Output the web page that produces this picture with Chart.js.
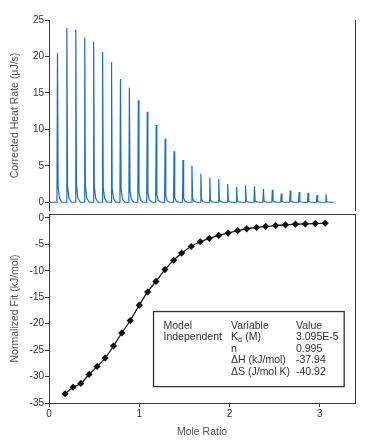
<!doctype html>
<html lang="en">
<head>
<meta charset="utf-8">
<title>ITC – Heat Rate and Normalized Fit</title>
<script src="https://cdn.jsdelivr.net/npm/chart.js@4.4.1/dist/chart.umd.min.js"></script>
<style>
 body{margin:0;background:#fff}
 #wrap{position:relative;width:377px;height:441px}
 canvas{position:absolute;left:0}
 #top{top:0}
 #bot{top:210px}
</style>
</head>
<body>
<div id="wrap">
  <canvas id="top" width="377" height="211"></canvas>
  <canvas id="bot" width="377" height="231"></canvas>
</div>

<script>
/* ===== Data ========================================================= */
// top panel: injection times (s) and peak heights (µJ/s)
const injTimes = [190, 400, 600, 800, 1000, 1200, 1400, 1600, 1800, 2000,
                  2200, 2400, 2600, 2800, 3000, 3200, 3400, 3600, 3800, 4000,
                  4200, 4400, 4600, 4800, 5000, 5200, 5400, 5600, 5800, 6000, 6200];
const peakHeights = [20.5, 23.9, 23.7, 22.6, 22.0, 20.6, 19.2, 16.9, 15.7, 14.0,
                     12.4, 10.6, 8.7, 7.0, 5.8, 5.0, 3.9, 3.4, 3.2, 2.5,
                     2.1, 2.3, 2.2, 1.8, 1.7, 1.2, 1.6, 1.4, 1.3, 1.0, 1.1];
const traceEnd = 6380;

// bottom panel: mole ratio vs normalized fit (kJ/mol)
const moleRatio = [0.178, 0.267, 0.352, 0.444, 0.533, 0.622, 0.715, 0.807, 0.9, 1.0,
                   1.093, 1.185, 1.285, 1.381, 1.47, 1.575, 1.675, 1.776, 1.88, 1.985,
                   2.09, 2.19, 2.3, 2.4, 2.51, 2.62, 2.73, 2.84, 2.95, 3.06];
const normFit = [-33.25, -32.0, -31.3, -29.6, -28.1, -26.5, -24.2, -21.75, -19.4, -16.5,
                 -14.0, -12.0, -9.76, -8.0, -6.65, -5.4, -4.5, -3.85, -3.3, -2.86,
                 -2.4, -2.05, -1.8, -1.6, -1.43, -1.3, -1.18, -1.12, -1.06, -1.0];

// fit result table
const colModel    = ['Model', 'Independent', '', '', ''];
const colVariable = ['Variable', 'K|d| (M)', 'n', 'ΔH (kJ/mol)', 'ΔS (J/mol K)'];
const colValue    = ['Value', '3.095E-5', '0.995', '-37.94', '-40.92'];

/* ===== Styles ======================================================== */
const FONT = '"Liberation Sans", Arial, sans-serif';
const AXIS = '#3a3a3a';
const TXT = '#333';
const TITLE = '#555';

/* build the trace: baseline, spike, short decay tail */
const trace = [{x:0, y:0}];
injTimes.forEach((t,i)=>{
  const h = peakHeights[i];
  trace.push({x:t-12,y:0},{x:t,y:h},{x:t+14,y:h*0.1},{x:t+45,y:h*0.025},{x:t+100,y:0});
});
trace.push({x:traceEnd, y:0});

// y scales: no extra padding for edge labels
const noPad = s=>{ s.width = 49; s.paddingTop = 0; s.paddingBottom = 0; };

/* frame lines (right / top edges) */
const frame = {
  id:'frame',
  afterDraw(chart, args, opts){
    const {ctx, chartArea:a} = chart;
    ctx.save();
    ctx.strokeStyle = AXIS; ctx.lineWidth = 1;
    ctx.beginPath();
    if(opts.top){ ctx.moveTo(a.left, a.top+0.5); ctx.lineTo(a.right, a.top+0.5); }
    ctx.moveTo(a.right+0.5, a.top); ctx.lineTo(a.right+0.5, a.bottom);
    ctx.stroke();
    ctx.restore();
  }
};

/* fit result box, placed in data coordinates */
const fitBox = {
  id:'fitBox',
  afterDraw(chart){
    const {ctx, scales:{x,y}} = chart;
    const L = x.getPixelForValue(1.158), R = x.getPixelForValue(3.27);
    const T = y.getPixelForValue(-17.7), B = y.getPixelForValue(-31.9);
    ctx.save();
    ctx.strokeStyle = '#333'; ctx.lineWidth = 1.3;
    ctx.strokeRect(L, T, R-L, B-T);
    ctx.fillStyle = TXT;
    ctx.textBaseline = 'middle';
    const f = `10.5px ${FONT}`, fs = `7px ${FONT}`;
    const cols = [[colModel,10],[colVariable,77.5],[colValue,142.5]];
    cols.forEach(([col,dx])=>{
      col.forEach((s,r)=>{
        const yy = T + 14.5 + r*11.5;
        let xx = L + dx;
        s.split('|').forEach((part,k)=>{
          ctx.font = k===1 ? fs : f;
          ctx.fillText(part, xx, k===1 ? yy+3 : yy);
          xx += ctx.measureText(part).width + (k===1 ? 0.5 : 0);
        });
      });
    });
    ctx.restore();
  }
};

/* ===== Top panel ===================================================== */
new Chart(document.getElementById('top'), {
  type:'line',
  data:{datasets:[{data:trace, borderColor:'#1b6ec2', borderWidth:1.2,
                   pointRadius:0, tension:0, fill:false}]},
  options:{
    responsive:false, animation:false, devicePixelRatio:1,
    layout:{padding:{top:20, right:22, left:0, bottom:0}},
    plugins:{legend:{display:false}, tooltip:{enabled:false}, frame:{top:false}},
    scales:{
      x:{type:'linear', min:0, max:6850, display:false},
      y:{min:-1.2, max:25,
         ticks:{stepSize:5, includeBounds:false, color:TXT, padding:1, font:{family:FONT, size:10}},
         grid:{drawOnChartArea:false, tickLength:4, color:AXIS},
         border:{color:AXIS, width:1},
         title:{display:true, text:'Corrected Heat Rate (μJ/s)', color:TITLE,
                font:{family:FONT, size:10.5}, padding:{top:8.4, bottom:0}},
         afterFit:noPad}
    }
  },
  plugins:[frame]
});

/* ===== Bottom panel ================================================== */
new Chart(document.getElementById('bot'), {
  type:'scatter',
  data:{datasets:[{
    data:moleRatio.map((m,i)=>({x:m, y:normFit[i]})),
    showLine:true, borderColor:'#222', borderWidth:1.3, tension:0.4,
    cubicInterpolationMode:'monotone',
    pointStyle:'rectRot', pointRadius:3.6, pointBackgroundColor:'#111',
    pointBorderColor:'#111', pointBorderWidth:0
  }]},
  options:{
    responsive:false, animation:false, devicePixelRatio:1,
    layout:{padding:{top:1, right:22, left:0, bottom:0}},
    plugins:{legend:{display:false}, tooltip:{enabled:false}, frame:{top:true}},
    scales:{
      x:{type:'linear', min:0, max:3.39,
         ticks:{stepSize:1, includeBounds:false, color:TXT, padding:1, font:{family:FONT, size:10}},
         grid:{drawOnChartArea:false, tickLength:4, color:AXIS},
         border:{color:AXIS, width:1},
         title:{display:true, text:'Mole Ratio', color:TITLE,
                font:{family:FONT, size:10.5}, padding:{top:0, bottom:2.4}},
         afterFit:s=>{s.height = 38;}},
      y:{min:-35, max:0.75,
         ticks:{stepSize:5, includeBounds:false, color:TXT, padding:1, font:{family:FONT, size:10}},
         grid:{drawOnChartArea:false, tickLength:4, color:AXIS},
         border:{color:AXIS, width:1},
         title:{display:true, text:'Normalized Fit (kJ/mol)', color:TITLE,
                font:{family:FONT, size:10.5}, padding:{top:8.4, bottom:0}},
         afterFit:noPad}
    }
  },
  plugins:[frame, fitBox]
});
</script>
</body>
</html>
